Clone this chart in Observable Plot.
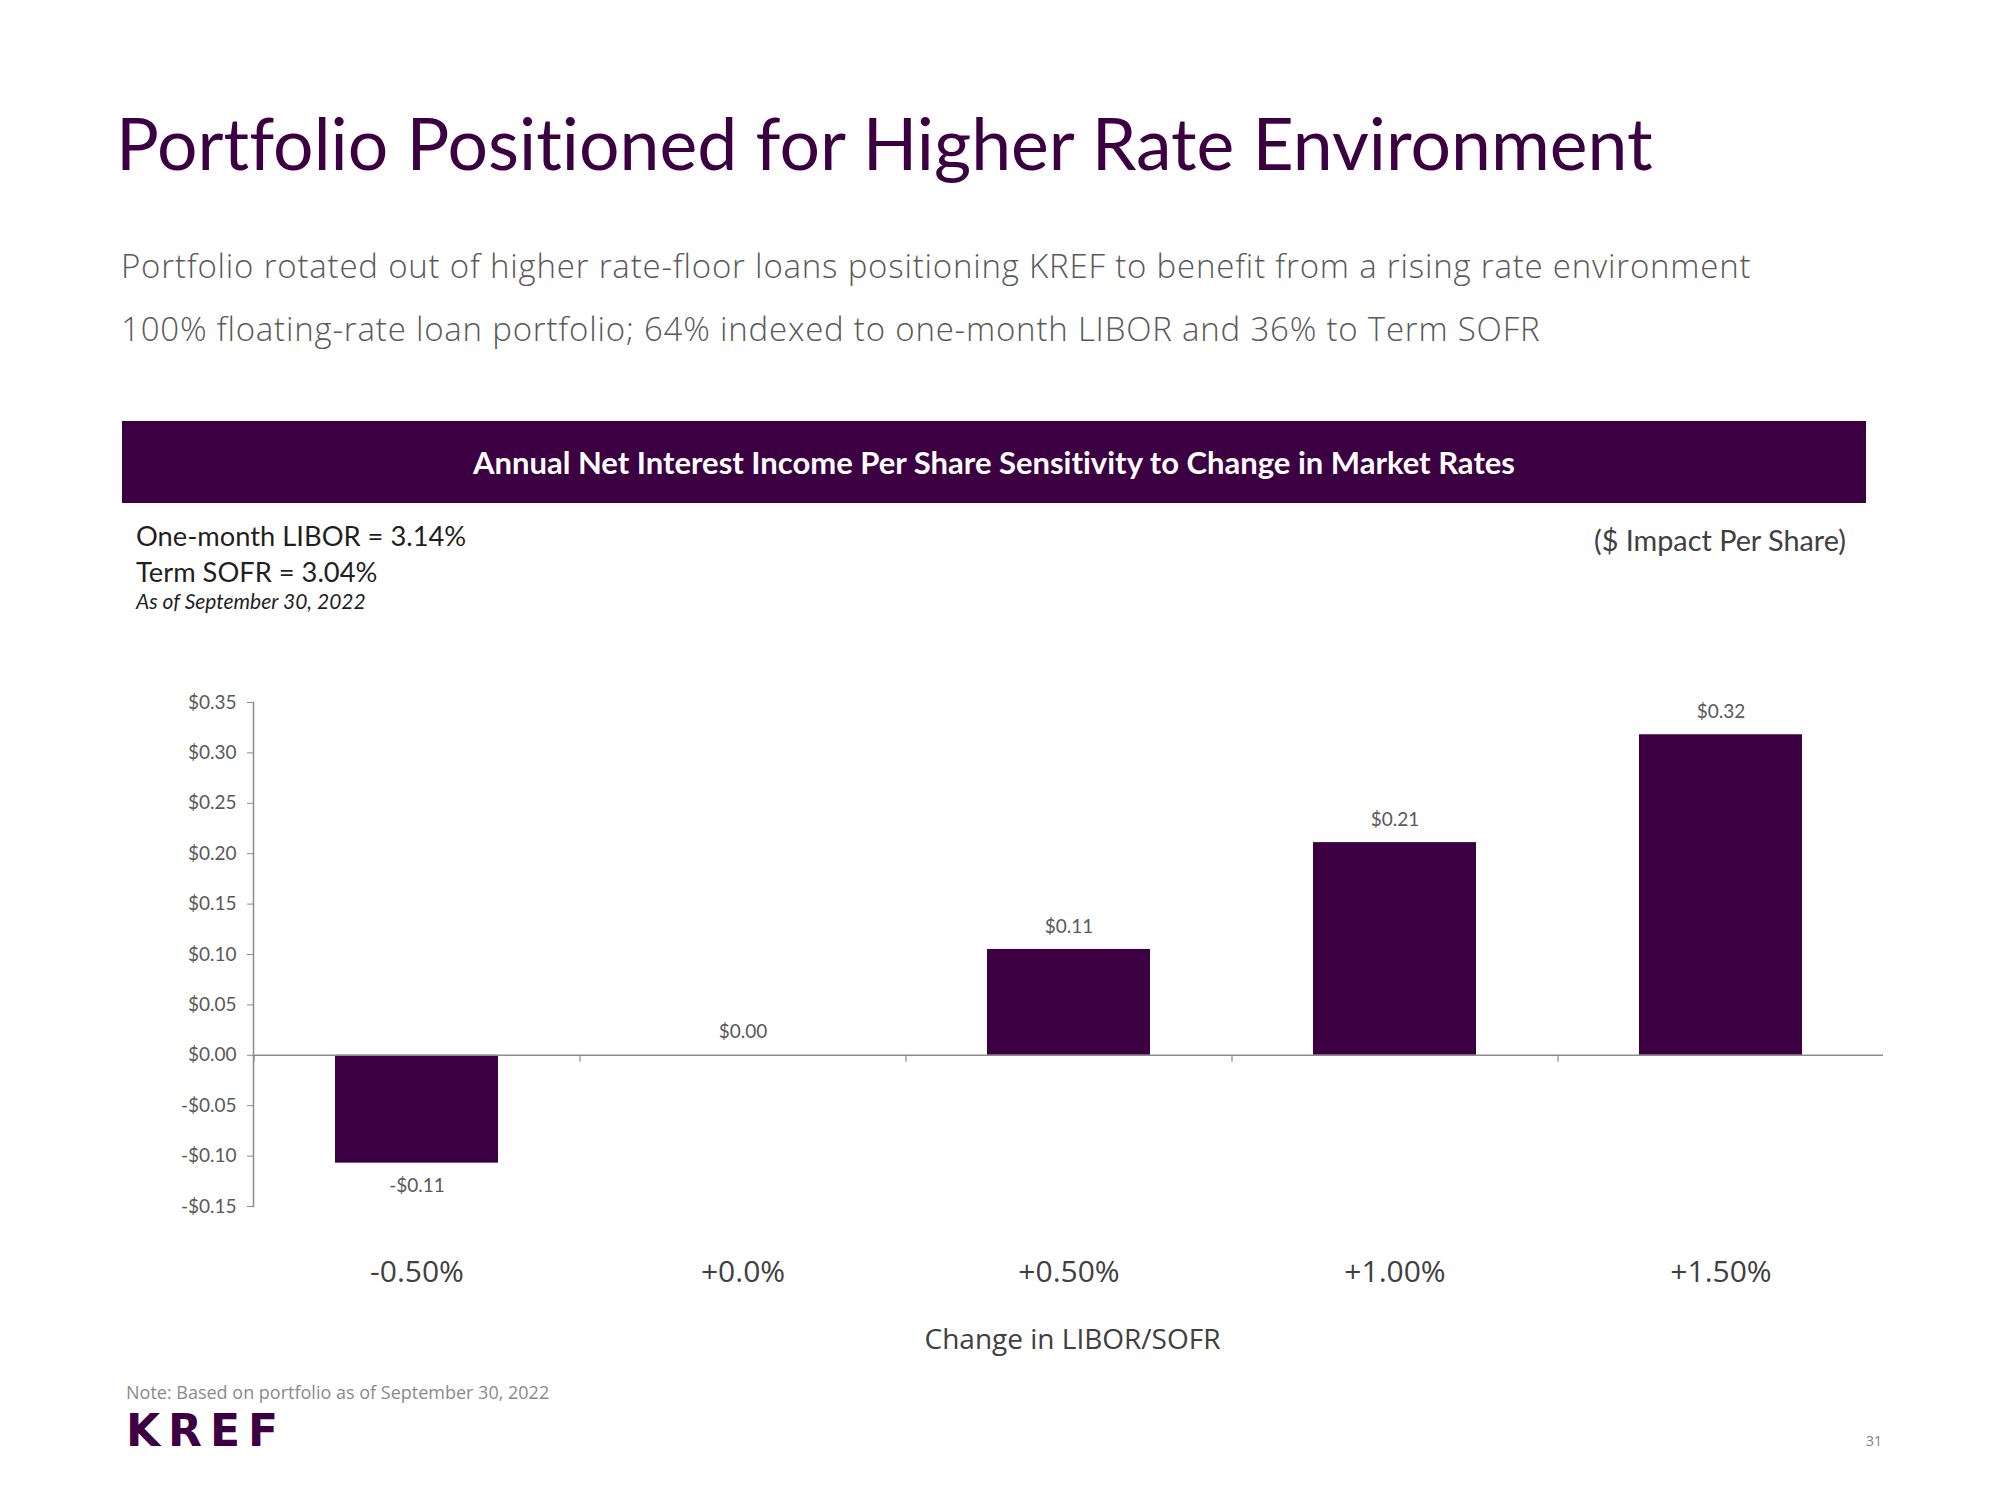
<!DOCTYPE html>
<html>
<head>
<meta charset="utf-8">
<script src="https://cdn.jsdelivr.net/npm/d3@7"></script>
<script src="https://cdn.jsdelivr.net/npm/@observablehq/plot@0.6"></script>
<style>
  body { margin: 0; background: #fff; }
  #page { position: relative; width: 2000px; height: 1500px; overflow: hidden; background: #fff; }
  .t { position: absolute; white-space: nowrap; line-height: 1; font-variant-ligatures: none; }
  #chart { position: absolute; left: 0; top: 640px; }
  #chart text { font-variant-ligatures: none; }
</style>
</head>
<body>
<div id="page">
  <div class="t" id="title"></div>
  <div class="t" id="sub1"></div>
  <div class="t" id="sub2"></div>
  <div id="band"></div>
  <div class="t" id="bandText"></div>
  <div class="t" id="note1"></div>
  <div class="t" id="note2"></div>
  <div class="t" id="note3"></div>
  <div class="t" id="units"></div>
  <div id="chart"></div>
  <div class="t" id="footnote"></div>
  <div class="t" id="logo"></div>
  <div class="t" id="pagenum"></div>
</div>
<script>
// ---- data ----
const categories = ["-0.50%", "+0.0%", "+0.50%", "+1.00%", "+1.50%"];
const values = [-0.107, 0.0, 0.105, 0.211, 0.318];
const valueLabels = ["-$0.11", "$0.00", "$0.11", "$0.21", "$0.32"];
const yTicks = [-0.15, -0.10, -0.05, 0, 0.05, 0.10, 0.15, 0.20, 0.25, 0.30, 0.35];
const titleText = "Portfolio Positioned for Higher Rate Environment";
const subtitleLines = [
  "Portfolio rotated out of higher rate-floor loans positioning KREF to benefit from a rising rate environment",
  "100% floating-rate loan portfolio; 64% indexed to one-month LIBOR and 36% to Term SOFR"
];
const bandTitle = "Annual Net Interest Income Per Share Sensitivity to Change in Market Rates";
const rateNotes = ["One-month LIBOR = 3.14%", "Term SOFR = 3.04%", "As of September 30, 2022"];
const unitsText = "($ Impact Per Share)";
const xLabel = "Change in LIBOR/SOFR";
const footnoteText = "Note: Based on portfolio as of September 30, 2022";
const logoText = "KREF";
const pageNumber = "31";

// ---- styles ----
const PURPLE = "#3c0042";
const AXIS = "#8c8c8c";

function place(id, text, css) {
  const el = document.getElementById(id);
  el.textContent = text;
  Object.assign(el.style, css);
}

place("title", titleText, {left: "116px", top: "107px", fontFamily: "Lato", fontSize: "71.5px", color: PURPLE});
place("sub1", subtitleLines[0], {left: "121px", top: "248.5px", fontFamily: "'Open Sans'", fontWeight: 300, fontSize: "33px", letterSpacing: "0.8px", color: "#595959"});
place("sub2", subtitleLines[1], {left: "121px", top: "311.5px", fontFamily: "'Open Sans'", fontWeight: 300, fontSize: "33px", letterSpacing: "0.8px", color: "#595959"});
Object.assign(document.getElementById("band").style, {position: "absolute", left: "122px", top: "421px", width: "1744px", height: "82px", background: PURPLE});
place("bandText", bandTitle, {left: "122px", width: "1744px", textAlign: "center", top: "447px", fontFamily: "Lato", fontWeight: 700, fontSize: "31px", color: "#ffffff"});
place("note1", rateNotes[0], {left: "136px", top: "522px", fontFamily: "Lato", fontSize: "27.3px", color: "#1f1f1f"});
place("note2", rateNotes[1], {left: "136px", top: "558px", fontFamily: "Lato", fontSize: "27.3px", color: "#1f1f1f"});
place("note3", rateNotes[2], {left: "136px", top: "590px", fontFamily: "Lato", fontStyle: "italic", fontSize: "21px", color: "#1f1f1f"});
place("units", unitsText, {right: "154px", top: "526px", fontFamily: "Lato", fontSize: "28.8px", color: "#404040"});
place("footnote", footnoteText, {left: "126px", top: "1383px", fontFamily: "'Open Sans'", fontSize: "18px", color: "#8a8a8a"});
place("logo", logoText, {left: "126px", top: "1409px", fontFamily: "'DejaVu Sans'", fontWeight: 700, fontSize: "44px", letterSpacing: "8px", color: PURPLE});
place("pagenum", pageNumber, {right: "118px", top: "1434px", fontFamily: "'Open Sans'", fontSize: "14px", color: "#7f7f7f"});

// ---- chart ----
const W = 2000, H = 760, mL = 253, mR = 117, mT = 62, mB = 194;
const step = (W - mL - mR) / categories.length;
const data = categories.map((c, i) => ({cat: c, value: values[i], label: valueLabels[i]}));
const money = d => (d < 0 ? "-" : "") + "$" + Math.abs(d).toFixed(2);

const chart = Plot.plot({
  width: W, height: H,
  marginLeft: mL, marginRight: mR, marginTop: mT, marginBottom: mB,
  style: {background: "transparent", overflow: "visible"},
  x: {domain: categories, paddingInner: 0.5, paddingOuter: 0.25, label: null},
  y: {domain: [-0.15, 0.35], label: null},
  marks: [
    Plot.barY(data, {x: "cat", y: "value", fill: PURPLE}),
    Plot.ruleY([0], {stroke: AXIS, strokeWidth: 1.5}),
    Plot.ruleX(categories, {x: d => d, y1: 0, y2: 0, insetBottom: -7, dx: -step / 2, stroke: AXIS, strokeWidth: 1.2}),
    Plot.frame({anchor: "left", stroke: AXIS, strokeWidth: 1.5}),
    Plot.axisY({ticks: yTicks, tickFormat: money, tickSize: 6, tickPadding: 11, label: null,
      fontSize: 19, fontFamily: "Lato", stroke: AXIS, fill: "#595959"}),
    Plot.axisX({anchor: "bottom", tickSize: 0, tickPadding: 54, label: null,
      fontSize: 30, fontFamily: "Open Sans", fill: "#404040"}),
    Plot.text(data.filter(d => d.value >= 0), {x: "cat", y: "value", text: "label", dy: -23,
      fontSize: 19, fontFamily: "Lato", fill: "#595959"}),
    Plot.text(data.filter(d => d.value < 0), {x: "cat", y: "value", text: "label", dy: 23,
      fontSize: 19, fontFamily: "Lato", fill: "#595959"}),
    Plot.text([xLabel], {frameAnchor: "bottom", dy: 142, dx: 4, fontSize: 28, fontFamily: "Open Sans", fill: "#404040"})
  ]
});
document.getElementById("chart").appendChild(chart);
</script>
</body>
</html>
